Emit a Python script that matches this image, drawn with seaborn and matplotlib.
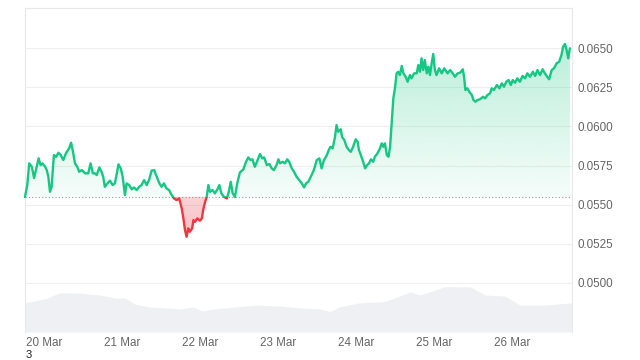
import numpy as np
import matplotlib
matplotlib.use("Agg")
import matplotlib.pyplot as plt
import matplotlib.colors as mcolors
from matplotlib.patches import Rectangle
from matplotlib.path import Path
import seaborn as sns

################################################
# Data (hours since 19 Mar 18:00)
################################################

hours = [
    0.0, 0.7, 1.3, 2.1, 2.8, 3.6, 4.2, 4.8,
    5.4, 6.2, 6.7, 7.2, 7.7, 8.2, 8.9, 9.6,
    10.3, 11.0, 11.8, 12.6, 13.6, 14.2, 14.7, 15.4,
    16.1, 16.7, 17.5, 18.5, 19.5, 20.2, 20.9, 21.6,
    22.1, 22.9, 23.6, 24.1, 24.6, 25.4, 26.2, 27.0,
    27.7, 28.3, 28.8, 29.5, 30.1, 30.8, 31.3, 32.1,
    32.9, 33.6, 34.4, 35.2, 35.9, 36.7, 37.5, 38.3,
    39.0, 39.8, 40.6, 41.4, 42.1, 42.8, 43.6, 44.4,
    45.2, 45.9, 46.7, 47.5, 48.3, 48.8, 49.3, 49.8,
    50.3, 50.8, 51.5, 51.9, 52.4, 53.1, 53.9, 54.5,
    54.9, 55.5, 56.0, 56.5, 57.0, 57.8, 58.5, 59.3,
    59.9, 60.5, 61.3, 62.2, 62.8, 63.4, 64.0, 64.7,
    65.4, 66.2, 67.3, 68.1, 68.8, 69.5, 70.1, 70.8,
    71.6, 72.4, 73.1, 73.7, 74.5, 75.3, 76.0, 76.7,
    77.5, 78.1, 78.6, 79.4, 80.1, 80.8, 81.4, 82.2,
    82.9, 83.7, 84.5, 85.3, 86.0, 86.6, 87.3, 88.3,
    89.0, 89.9, 90.7, 91.4, 92.1, 92.9, 93.6, 94.1,
    94.8, 95.5, 96.0, 96.5, 97.3, 97.7, 98.4, 99.1,
    99.8, 100.4, 101.1, 101.9, 102.5, 102.9, 103.5, 104.2,
    104.8, 105.4, 106.0, 106.6, 107.3, 107.8, 108.6, 109.4,
    109.9, 110.4, 110.9, 111.5, 112.0, 112.5, 113.0, 113.5,
    114.0, 114.5, 115.0, 115.5, 116.1, 116.6, 117.3, 117.9,
    118.6, 119.1, 119.9, 120.7, 121.2, 121.7, 122.2, 122.7,
    123.2, 123.8, 124.3, 124.8, 125.3, 125.8, 126.3, 126.8,
    127.6, 128.4, 129.2, 130.2, 131.0, 131.8, 132.5, 133.3,
    134.1, 134.9, 135.3, 135.7, 136.3, 136.9, 137.7, 138.2,
    138.8, 139.4, 140.2, 141.1, 141.8, 142.5, 143.3, 143.8,
    144.5, 145.4, 146.2, 146.9, 147.6, 148.3, 149.0, 149.7,
    150.3, 151.0, 151.7, 152.5, 153.3, 154.1, 154.8, 155.6,
    156.5, 157.2, 157.9, 158.7, 159.5, 160.2, 160.9, 161.5,
    162.3, 163.0, 163.8, 164.6, 165.3, 165.8, 166.4, 166.9,
    167.4, 167.9,
]

prices = [
    0.05550, 0.05625, 0.05764, 0.05742, 0.05670, 0.05742, 0.05796, 0.05753,
    0.05764, 0.05742, 0.05721, 0.05678, 0.05582, 0.05614, 0.05817, 0.05806,
    0.05832, 0.05817, 0.05785, 0.05828, 0.05860, 0.05896, 0.05849, 0.05764,
    0.05742, 0.05710, 0.05721, 0.05700, 0.05700, 0.05764, 0.05700, 0.05700,
    0.05689, 0.05738, 0.05710, 0.05678, 0.05614, 0.05636, 0.05653, 0.05625,
    0.05636, 0.05700, 0.05758, 0.05732, 0.05678, 0.05561, 0.05636, 0.05625,
    0.05598, 0.05610, 0.05593, 0.05614, 0.05625, 0.05657, 0.05625, 0.05662,
    0.05717, 0.05721, 0.05678, 0.05636, 0.05614, 0.05636, 0.05604, 0.05593,
    0.05561, 0.05540, 0.05529, 0.05540, 0.05476, 0.05412, 0.05337, 0.05294,
    0.05348, 0.05326, 0.05348, 0.05401, 0.05390, 0.05412, 0.05397, 0.05412,
    0.05465, 0.05518, 0.05550, 0.05625, 0.05582, 0.05593, 0.05572, 0.05598,
    0.05625, 0.05572, 0.05550, 0.05540, 0.05582, 0.05646, 0.05572, 0.05550,
    0.05636, 0.05705, 0.05726, 0.05774, 0.05802, 0.05785, 0.05790, 0.05742,
    0.05781, 0.05824, 0.05796, 0.05802, 0.05753, 0.05760, 0.05732, 0.05721,
    0.05753, 0.05790, 0.05764, 0.05774, 0.05764, 0.05790, 0.05774, 0.05732,
    0.05710, 0.05678, 0.05657, 0.05636, 0.05610, 0.05636, 0.05646, 0.05689,
    0.05721, 0.05785, 0.05796, 0.05732, 0.05785, 0.05811, 0.05849, 0.05870,
    0.05860, 0.05930, 0.06009, 0.05966, 0.05982, 0.05934, 0.05913, 0.05870,
    0.05849, 0.05838, 0.05870, 0.05918, 0.05902, 0.05849, 0.05817, 0.05774,
    0.05732, 0.05753, 0.05764, 0.05790, 0.05774, 0.05806, 0.05828, 0.05860,
    0.05892, 0.05870, 0.05892, 0.05817, 0.05806, 0.05870, 0.06020, 0.06180,
    0.06244, 0.06340, 0.06350, 0.06329, 0.06387, 0.06340, 0.06318, 0.06286,
    0.06329, 0.06308, 0.06340, 0.06340, 0.06393, 0.06350, 0.06436, 0.06361,
    0.06425, 0.06340, 0.06382, 0.06329, 0.06404, 0.06464, 0.06361, 0.06329,
    0.06372, 0.06340, 0.06372, 0.06340, 0.06361, 0.06340, 0.06318, 0.06340,
    0.06344, 0.06366, 0.06318, 0.06233, 0.06244, 0.06222, 0.06201, 0.06169,
    0.06158, 0.06169, 0.06174, 0.06190, 0.06180, 0.06201, 0.06212, 0.06244,
    0.06233, 0.06265, 0.06244, 0.06276, 0.06254, 0.06286, 0.06297, 0.06265,
    0.06297, 0.06280, 0.06308, 0.06286, 0.06323, 0.06308, 0.06340, 0.06318,
    0.06350, 0.06323, 0.06361, 0.06329, 0.06366, 0.06340, 0.06318, 0.06302,
    0.06361, 0.06372, 0.06404, 0.06414, 0.06457, 0.06510, 0.06528, 0.06489,
    0.06436, 0.06500,
]

open_price = 0.0555

vol_hours = [0, 6.2, 10.8, 16.9, 23.1, 27.7, 30.8, 33.9, 38.5, 47.8, 51.8,
             54.5, 58.5, 64.7, 70.9, 78.6, 84.7, 90.9, 94.0, 97.0, 103.2,
             110.9, 115.5, 118.6, 121.7, 124.8, 129.4, 137.1, 141.8, 147.9,
             152.5, 160.2, 168.4]
volumes = [9.0, 10.2, 12.1, 12.0, 11.4, 10.5, 10.5, 8.6, 7.7, 7.1, 7.7,
           6.5, 7.1, 7.7, 8.3, 8.0, 7.4, 7.1, 6.3, 7.8, 9.0,
           9.4, 11.1, 12.4, 11.4, 12.4, 14.0, 13.9, 11.4, 11.1,
           8.3, 8.3, 9.0]

day_ticks = [6, 30, 54, 78, 102, 126, 150]
day_labels = ["20 Mar", "21 Mar", "22 Mar", "23 Mar", "24 Mar", "25 Mar", "26 Mar"]
price_ticks = [0.0500, 0.0525, 0.0550, 0.0575, 0.0600, 0.0625, 0.0650]

GREEN = "#16c784"
RED = "#ea3943"
XMAX = 168.4
YMIN, YMAX = 0.04685, 0.06758

################################################
# Style
################################################

sns.set_style("white")
plt.rcParams["font.family"] = ["Liberation Sans", "DejaVu Sans"]

x = np.array(hours)
y = np.array(prices)


def gradient_fill(ax, above, color, a_near, a_far, far):
    mask = y >= open_price if above else y <= open_price
    coll = ax.fill_between(x, y, open_price, where=mask, interpolate=True,
                           facecolor="none", edgecolor="none")
    path = Path.make_compound_path(*coll.get_paths())
    grad = np.zeros((256, 1, 4))
    grad[..., :3] = mcolors.to_rgb(color)
    if above:
        lo, hi = open_price, far
        grad[:, 0, 3] = np.linspace(a_near, a_far, 256)
    else:
        lo, hi = far, open_price
        grad[:, 0, 3] = np.linspace(a_far, a_near, 256)
    im = ax.imshow(grad, extent=[0, XMAX, lo, hi], origin="lower",
                   aspect="auto", interpolation="bilinear", zorder=1)
    im.set_clip_path(path, ax.transData)


fig, ax = plt.subplots(figsize=(6.4, 3.6), dpi=100)
fig.subplots_adjust(left=25 / 640, right=571.5 / 640, bottom=28 / 360, top=352 / 360)

# volume on a twin axis, kept behind the price
ax_vol = ax.twinx()
ax_vol.fill_between(vol_hours, volumes, 0, color="#eef0f3", lw=0)
ax_vol.set_ylim(0, 100)
ax_vol.set_yticks([])
for s in ax_vol.spines.values():
    s.set_visible(False)
ax.set_zorder(ax_vol.get_zorder() + 1)
ax.patch.set_visible(False)

# fills
gradient_fill(ax, True, GREEN, 0.04, 0.30, 0.0655)
gradient_fill(ax, False, RED, 0.22, 0.32, 0.0529)

# price line, green above open, red below
sns.lineplot(x=x, y=y, ax=ax, color=GREEN, lw=1.7, zorder=3)
sns.lineplot(x=x, y=y, ax=ax, color=RED, lw=1.7, zorder=3)
green_line, red_line = ax.lines[-2], ax.lines[-1]
green_line.set_clip_path(Rectangle((-10, open_price), 200, 1, transform=ax.transData))
red_line.set_clip_path(Rectangle((-10, open_price - 1), 200, 1, transform=ax.transData))

ax.axhline(open_price, color="#9a9a9a", lw=0.8, ls=(0, (1, 2)), zorder=2)

ax.set_xlim(0, XMAX)
ax.set_ylim(YMIN, YMAX)

ax.set_yticks(price_ticks)
ax.set_yticklabels([f"{v:.4f}" for v in price_ticks])
ax.yaxis.tick_right()
ax.set_xticks(day_ticks)
ax.set_xticklabels(day_labels)
ax.tick_params(axis="both", length=0, labelsize=8.4, labelcolor="#666666")
ax.tick_params(axis="y", pad=4)
ax.tick_params(axis="x", pad=3.5)
ax.grid(axis="y", color="#efefef", lw=0.8)
ax.set_axisbelow(True)
ax.set_xlabel("")
ax.set_ylabel("")

for side in ["top", "left", "right"]:
    ax.spines[side].set_color("#e8e8e8")
    ax.spines[side].set_linewidth(0.8)
ax.spines["bottom"].set_visible(False)

fig.text(26 / 640, 0, "3", color="#222222", fontsize=8, va="bottom")

fig.savefig("out.png", dpi=100)
